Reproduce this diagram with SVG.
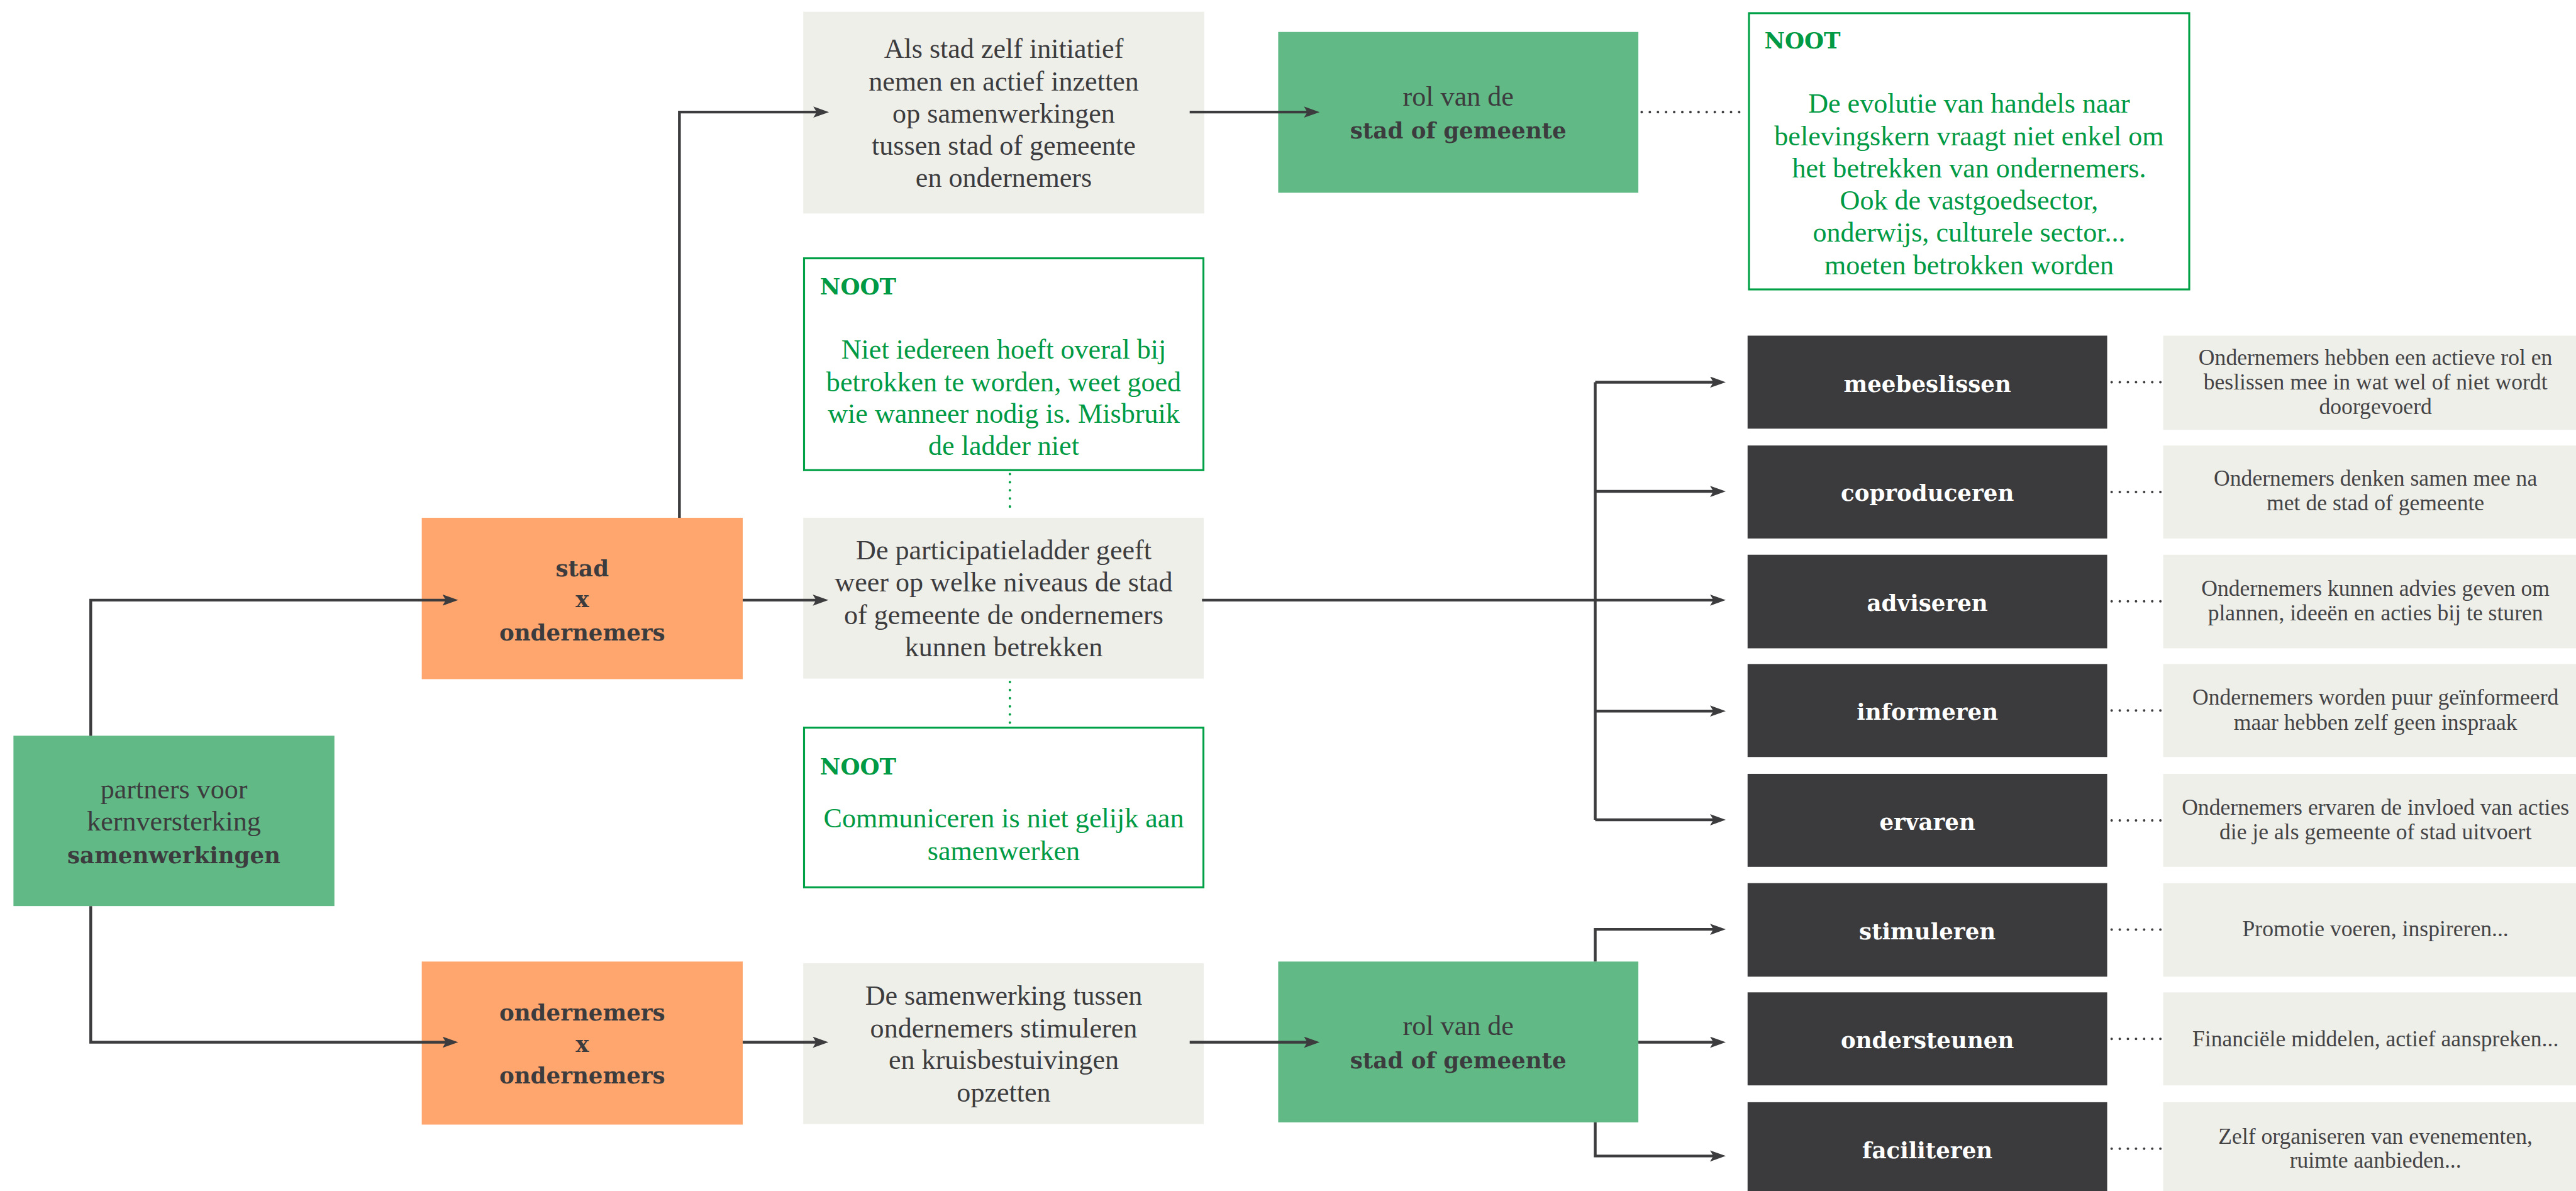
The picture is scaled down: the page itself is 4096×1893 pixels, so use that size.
<svg xmlns="http://www.w3.org/2000/svg" width="4096" height="1893" viewBox="0 0 4096 1893">
  <defs>
    <style>
      .t { font-family: "Liberation Serif", "DejaVu Serif", serif; font-size: 49.5px; fill: #3c3c3e; text-anchor: middle; }
      .d { font-family: "Liberation Serif", "DejaVu Serif", serif; font-size: 40px; fill: #444446; text-anchor: middle; }
      .b { font-family: "DejaVu Serif", "Liberation Serif", serif; font-weight: bold; font-size: 40px; fill: #3c3c3e; text-anchor: middle; }
      .w { fill: #ffffff; }
      .g { fill: #009a44; }
      .st { text-anchor: start; }
      .green { fill: #61b986; }
      .orange { fill: #fea66e; }
      .grey { fill: #efefea; }
      .dark { fill: #3b3b3d; }
      .note { fill: #ffffff; stroke: #00a046; stroke-width: 3.5; }
      .conn { fill: none; stroke: #3c3c3e; stroke-width: 5; }
      .dots { fill: none; stroke: #3c3c3e; stroke-width: 4.5; stroke-dasharray: 0 14.5; stroke-linecap: round; }
      .gdots { fill: none; stroke: #00a046; stroke-width: 4.5; stroke-dasharray: 0 14.5; stroke-linecap: round; }
    </style>
    <marker id="arrow" markerUnits="userSpaceOnUse" markerWidth="30" markerHeight="22" refX="8" refY="10" orient="auto" viewBox="0 0 30 22">
      <path d="M0,0 L28,10 L0,20 L6,10 Z" fill="#3c3c3e"/>
    </marker>
  </defs>
  <rect x="0" y="0" width="4096" height="1893" fill="#ffffff"/>
  <g transform="scale(0.890628)">

    <!-- root -->
    <g id="partners">
      <rect class="green" x="24" y="1313" width="573" height="304"/>
      <text class="t" x="310.5" y="1425">partners voor</text>
      <text class="t" x="310.5" y="1482">kernversterking</text>
      <text class="b" x="310.5" y="1540">samenwerkingen</text>
    </g>

    <!-- second level -->
    <g id="stad-x-ondernemers">
      <rect class="orange" x="753" y="924" width="573" height="288"/>
      <text class="b" x="1039.5" y="1028">stad</text>
      <text class="b" x="1039.5" y="1084">x</text>
      <text class="b" x="1039.5" y="1143">ondernemers</text>
    </g>
    <g id="ondernemers-x-ondernemers">
      <rect class="orange" x="753" y="1716" width="573" height="291"/>
      <text class="b" x="1039.5" y="1821">ondernemers</text>
      <text class="b" x="1039.5" y="1877">x</text>
      <text class="b" x="1039.5" y="1934">ondernemers</text>
    </g>

    <!-- third level -->
    <g id="initiatief">
      <rect class="grey" x="1434" y="21" width="716" height="360"/>
      <text class="t" x="1792" y="103">Als stad zelf initiatief</text>
      <text class="t" x="1792" y="161.5">nemen en actief inzetten</text>
      <text class="t" x="1792" y="219.5">op samenwerkingen</text>
      <text class="t" x="1792" y="276.5">tussen stad of gemeente</text>
      <text class="t" x="1792" y="333.5">en ondernemers</text>
    </g>
    <g id="noot-ladder">
      <rect class="note" x="1435.5" y="461" width="713" height="378"/>
      <text class="b g st" x="1464" y="525">NOOT</text>
      <text class="t g" x="1792" y="640">Niet iedereen hoeft overal bij</text>
      <text class="t g" x="1792" y="698">betrokken te worden, weet goed</text>
      <text class="t g" x="1792" y="755">wie wanneer nodig is. Misbruik</text>
      <text class="t g" x="1792" y="812">de ladder niet</text>
    </g>
    <g id="participatieladder">
      <rect class="grey" x="1434" y="924" width="715" height="287"/>
      <text class="t" x="1792" y="998">De participatieladder geeft</text>
      <text class="t" x="1792" y="1056">weer op welke niveaus de stad</text>
      <text class="t" x="1792" y="1114">of gemeente de ondernemers</text>
      <text class="t" x="1792" y="1171">kunnen betrekken</text>
    </g>
    <g id="noot-communiceren">
      <rect class="note" x="1435.5" y="1298.5" width="713" height="285"/>
      <text class="b g st" x="1464" y="1382">NOOT</text>
      <text class="t g" x="1792" y="1477">Communiceren is niet gelijk aan</text>
      <text class="t g" x="1792" y="1535">samenwerken</text>
    </g>
    <g id="samenwerking">
      <rect class="grey" x="1434" y="1719" width="715" height="287"/>
      <text class="t" x="1792" y="1793">De samenwerking tussen</text>
      <text class="t" x="1792" y="1851">ondernemers stimuleren</text>
      <text class="t" x="1792" y="1908">en kruisbestuivingen</text>
      <text class="t" x="1792" y="1966">opzetten</text>
    </g>

    <!-- role of the city -->
    <g id="rol-boven">
      <rect class="green" x="2282" y="57" width="643" height="287"/>
      <text class="t" x="2603.5" y="189">rol van de</text>
      <text class="b" x="2603.5" y="247">stad of gemeente</text>
    </g>
    <g id="rol-onder">
      <rect class="green" x="2282" y="1716" width="643" height="287"/>
      <text class="t" x="2603.5" y="1847">rol van de</text>
      <text class="b" x="2603.5" y="1906">stad of gemeente</text>
    </g>
    <g id="noot-evolutie">
      <rect class="note" x="3122.5" y="23.5" width="786" height="493"/>
      <text class="b g st" x="3150" y="86">NOOT</text>
      <text class="t g" x="3515.5" y="201">De evolutie van handels naar</text>
      <text class="t g" x="3515.5" y="259">belevingskern vraagt niet enkel om</text>
      <text class="t g" x="3515.5" y="317">het betrekken van ondernemers.</text>
      <text class="t g" x="3515.5" y="374">Ook de vastgoedsector,</text>
      <text class="t g" x="3515.5" y="431">onderwijs, culturele sector...</text>
      <text class="t g" x="3515.5" y="489">moeten betrokken worden</text>
    </g>

    <!-- ladder steps -->
    <g id="meebeslissen">
      <rect class="dark" x="3120" y="599" width="642" height="166"/>
      <text class="b w" x="3441" y="699">meebeslissen</text>
      <rect class="grey" x="3862" y="599" width="737" height="168"/>
      <text class="d" x="4241" y="651">Ondernemers hebben een actieve rol en</text>
      <text class="d" x="4241" y="695">beslissen mee in wat wel of niet wordt</text>
      <text class="d" x="4241" y="739">doorgevoerd</text>
    </g>
    <g id="coproduceren">
      <rect class="dark" x="3120" y="795" width="642" height="166"/>
      <text class="b w" x="3441" y="894">coproduceren</text>
      <rect class="grey" x="3862" y="795" width="737" height="166"/>
      <text class="d" x="4241" y="867">Ondernemers denken samen mee na</text>
      <text class="d" x="4241" y="911">met de stad of gemeente</text>
    </g>
    <g id="adviseren">
      <rect class="dark" x="3120" y="990" width="642" height="167"/>
      <text class="b w" x="3441" y="1090">adviseren</text>
      <rect class="grey" x="3862" y="990" width="737" height="167"/>
      <text class="d" x="4241" y="1063">Ondernemers kunnen advies geven om</text>
      <text class="d" x="4241" y="1107">plannen, ideeën en acties bij te sturen</text>
    </g>
    <g id="informeren">
      <rect class="dark" x="3120" y="1185" width="642" height="166"/>
      <text class="b w" x="3441" y="1285">informeren</text>
      <rect class="grey" x="3862" y="1185" width="737" height="166"/>
      <text class="d" x="4241" y="1258">Ondernemers worden puur geïnformeerd</text>
      <text class="d" x="4241" y="1302">maar hebben zelf geen inspraak</text>
    </g>
    <g id="ervaren">
      <rect class="dark" x="3120" y="1381" width="642" height="166"/>
      <text class="b w" x="3441" y="1481">ervaren</text>
      <rect class="grey" x="3862" y="1381" width="737" height="166"/>
      <text class="d" x="4241" y="1454">Ondernemers ervaren de invloed van acties</text>
      <text class="d" x="4241" y="1498">die je als gemeente of stad uitvoert</text>
    </g>
    <g id="stimuleren">
      <rect class="dark" x="3120" y="1576" width="642" height="167"/>
      <text class="b w" x="3441" y="1676">stimuleren</text>
      <rect class="grey" x="3862" y="1576" width="737" height="167"/>
      <text class="d" x="4241" y="1671">Promotie voeren, inspireren...</text>
    </g>
    <g id="ondersteunen">
      <rect class="dark" x="3120" y="1771" width="642" height="166"/>
      <text class="b w" x="3441" y="1871">ondersteunen</text>
      <rect class="grey" x="3862" y="1771" width="737" height="166"/>
      <text class="d" x="4241" y="1867">Financiële middelen, actief aanspreken...</text>
    </g>
    <g id="faciliteren">
      <rect class="dark" x="3120" y="1967" width="642" height="166"/>
      <text class="b w" x="3441" y="2067">faciliteren</text>
      <rect class="grey" x="3862" y="1967" width="737" height="166"/>
      <text class="d" x="4241" y="2041">Zelf organiseren van evenementen,</text>
      <text class="d" x="4241" y="2084">ruimte aanbieden...</text>
    </g>

    <!-- connectors -->
    <g id="connectors">
      <path class="conn" d="M162,1313 V1071 H798" marker-end="url(#arrow)"/>
      <path class="conn" d="M162,1617 V1860 H798" marker-end="url(#arrow)"/>
      <path class="conn" d="M1326,1071 H1459" marker-end="url(#arrow)"/>
      <path class="conn" d="M1213,924 V200 H1460" marker-end="url(#arrow)"/>
      <path class="conn" d="M2124,200 H2336" marker-end="url(#arrow)"/>
      <path class="conn" d="M1326,1860 H1459" marker-end="url(#arrow)"/>
      <path class="conn" d="M2124,1860 H2336" marker-end="url(#arrow)"/>

      <path class="conn" d="M2146,1071 H3061" marker-end="url(#arrow)"/>
      <path class="conn" d="M2848,682 V1463"/>
      <path class="conn" d="M2848,682 H3061" marker-end="url(#arrow)"/>
      <path class="conn" d="M2848,877 H3061" marker-end="url(#arrow)"/>
      <path class="conn" d="M2848,1269 H3061" marker-end="url(#arrow)"/>
      <path class="conn" d="M2848,1463 H3061" marker-end="url(#arrow)"/>

      <path class="conn" d="M2925,1860 H3061" marker-end="url(#arrow)"/>
      <path class="conn" d="M2848,1716 V1658.5 H3061" marker-end="url(#arrow)"/>
      <path class="conn" d="M2848,2003 V2063 H3061" marker-end="url(#arrow)"/>

      <!-- dotted links to notes and descriptions -->
      <path class="dots" d="M2931,200 H3119"/>
      <path class="gdots" d="M1803,846 V914"/>
      <path class="gdots" d="M1803,1217 V1290"/>
      <path class="dots" d="M3770,682 H3858"/>
      <path class="dots" d="M3770,878 H3858"/>
      <path class="dots" d="M3770,1073 H3858"/>
      <path class="dots" d="M3770,1268 H3858"/>
      <path class="dots" d="M3770,1464 H3858"/>
      <path class="dots" d="M3770,1659 H3858"/>
      <path class="dots" d="M3770,1854 H3858"/>
      <path class="dots" d="M3770,2050 H3858"/>
    </g>
  </g>
</svg>
